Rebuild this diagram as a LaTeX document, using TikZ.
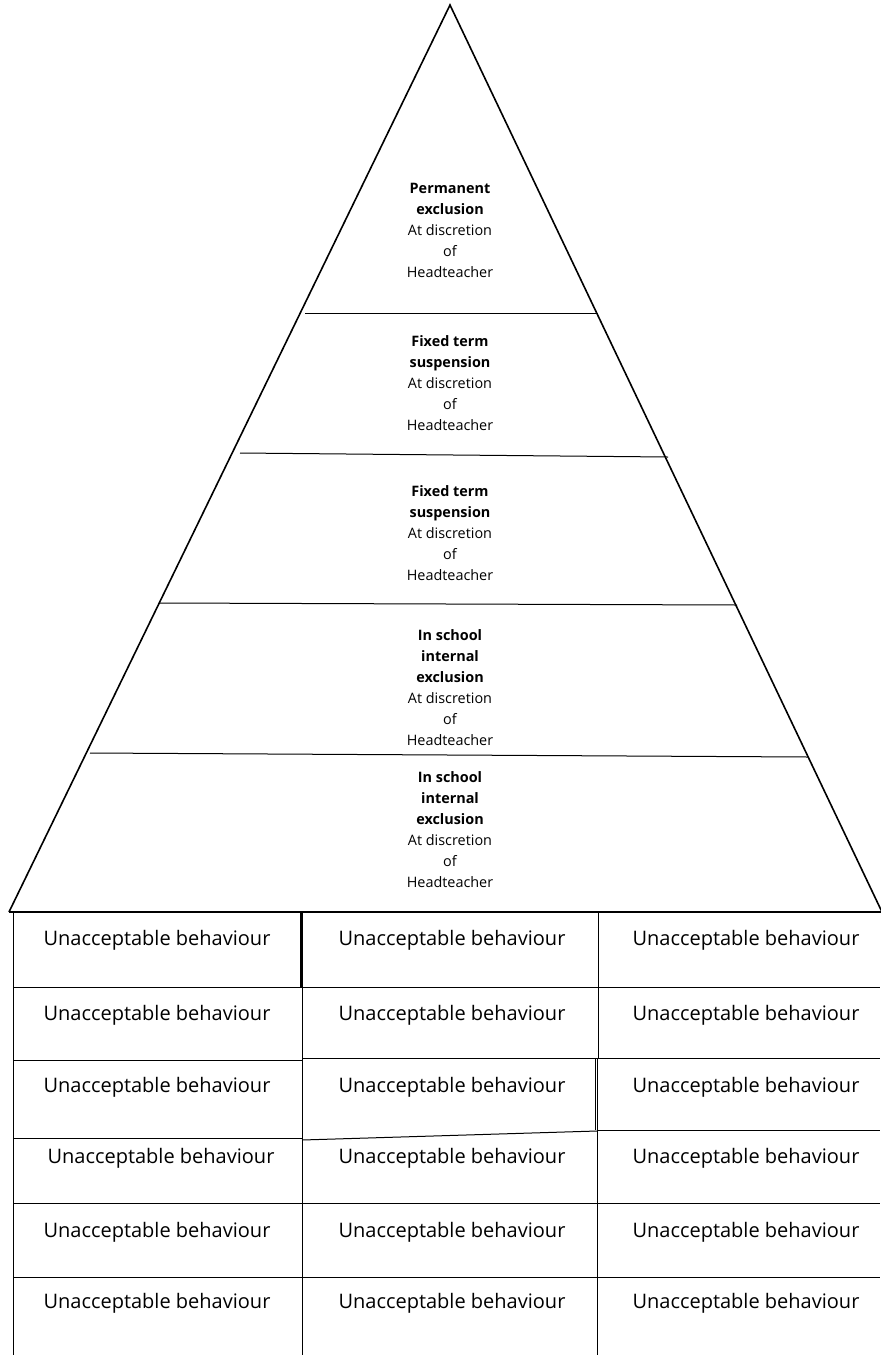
\documentclass[tikz,border=0pt]{standalone}
\usepackage{fontspec}
\setmainfont{Open Sans}

\begin{document}
\begin{tikzpicture}[x=0.5pt, y=-0.5pt, line width=0.5pt,
    tier/.style={align=center, inner sep=0pt, font=\fontsize{7.2}{10.5}\selectfont},
    cell/.style={inner sep=0pt, font=\fontsize{10}{12}\selectfont}]
    \useasboundingbox (0,0) rectangle (880,1355);

    % pyramid
    \coordinate (apex) at (450,5);
    \coordinate (baseL) at (9,912);
    \coordinate (baseR) at (882,912);
    \path [draw, line width=0.8pt] (baseL) -- (apex) -- (baseR);
    \path [draw, line width=1pt] (baseL) -- (baseR);

    \path [draw] (305,313) -- (598,313);
    \path [draw] (240,453) -- (668,457);
    \path [draw] (160,603) -- (737,605);
    \path [draw] (90,753) -- (808,757);

    \node [tier] (permanent) at (450,230) {\textbf{Permanent}\\\textbf{exclusion}\\At discretion\\of\\Headteacher};
    \node [tier] (fixedA) at (450,383) {\textbf{Fixed term}\\\textbf{suspension}\\At discretion\\of\\Headteacher};
    \node [tier] (fixedB) at (450,533) {\textbf{Fixed term}\\\textbf{suspension}\\At discretion\\of\\Headteacher};
    \node [tier] (internalA) at (450,688) {\textbf{In school}\\\textbf{internal}\\\textbf{exclusion}\\At discretion\\of\\Headteacher};
    \node [tier] (internalB) at (450,830) {\textbf{In school}\\\textbf{internal}\\\textbf{exclusion}\\At discretion\\of\\Headteacher};

    % table
    \path [draw] (13,912) -- (13,1355);
    \path [draw, line width=1.2pt] (301.5,912) -- (301.5,987);
    \path [draw] (302,987) -- (302,1355);
    \path [draw] (598,912) -- (598,1058);
    \path [draw] (597,1058) -- (597,1355);
    \path [draw] (595.5,1058) -- (595.5,1130);

    \foreach \y in {987,1060,1138,1203,1277}
        \path [draw] (13,\y) -- (302,\y);
    \foreach \y in {987,1058,1203,1277}
        \path [draw] (302,\y) -- (597,\y);
    \path [draw] (302,1140) -- (597,1131);
    \foreach \y in {987,1058,1130,1203,1277}
        \path [draw] (597,\y) -- (880,\y);

    \foreach \r/\y/\x in {1/940/157,2/1015/157,3/1087/157,4/1158/161,5/1232/157,6/1303/157} {
        \node [cell] (left\r) at (\x,\y) {Unacceptable behaviour};
        \node [cell] (mid\r) at (452,\y) {Unacceptable behaviour};
        \node [cell] (right\r) at (746,\y) {Unacceptable behaviour};
    }
\end{tikzpicture}
\end{document}
